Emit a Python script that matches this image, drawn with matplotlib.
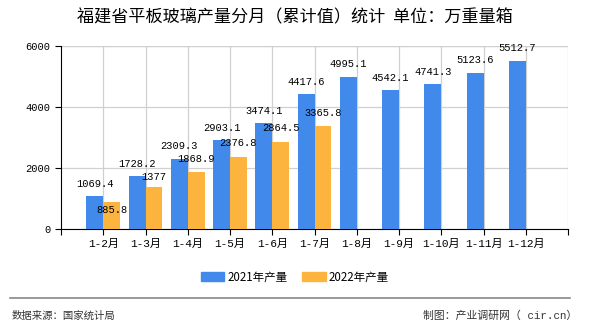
import matplotlib
matplotlib.use("Agg")
import matplotlib.pyplot as plt
from matplotlib.patches import Patch

plt.rcParams['font.family'] = ['Noto Sans CJK SC', 'DejaVu Sans']

categories = ["1-2月", "1-3月", "1-4月", "1-5月", "1-6月", "1-7月",
              "1-8月", "1-9月", "1-10月", "1-11月", "1-12月"]
values_2021 = [1069.4, 1728.2, 2309.3, 2903.1, 3474.1, 4417.6,
               4995.1, 4542.1, 4741.3, 5123.6, 5512.7]
values_2022 = [885.8, 1377, 1868.9, 2376.8, 2864.5, 3365.8]
label_2021 = [f"{v:g}" for v in values_2021]
label_2022 = [f"{v:g}" for v in values_2022]
yticks = [0, 2000, 4000, 6000]

c21 = "#418AEC"
c22 = "#FDB43F"
mono = ['Liberation Mono', 'Noto Sans CJK SC']

fig = plt.figure(figsize=(5.9, 3.3), dpi=100)
ax = fig.add_axes([61/590, 1-229/330, (568-61)/590, (229-46)/330])

x = list(range(len(categories)))
w = 0.4
ax.bar([i - w/2 for i in x], values_2021, width=w, color=c21, zorder=3)
ax.bar([i + w/2 for i in range(len(values_2022))], values_2022, width=w, color=c22, zorder=3)

for i, v in enumerate(values_2021):
    ax.annotate(label_2021[i], (i - w/2, v), xytext=(0, 9), textcoords="offset points",
                ha="center", va="center", fontsize=7.5, family=mono, zorder=5)
off22 = [-6, 7, 9, 9.5, 10, 9.5]
for i, v in enumerate(values_2022):
    ax.annotate(label_2022[i], (i + w/2, v), xytext=(0, off22[i]), textcoords="offset points",
                ha="center", va="center", fontsize=7.5, family=mono, zorder=5)

ax.set_xlim(-1, len(categories))
ax.set_ylim(0, 6000)
ax.set_yticks(yticks)
ax.set_yticklabels([str(t) for t in yticks], fontsize=7.5, family=mono)
ax.set_xticks(x)
ax.set_xticklabels(categories, fontsize=8, family=mono)
ax.set_xticks([-1, len(categories)], minor=True)
ax.grid(True, color="#D0D0D0", linewidth=0.9, zorder=0)
ax.set_axisbelow(True)
for s in ["top", "right"]:
    ax.spines[s].set_visible(False)
ax.spines["left"].set_color("black")
ax.spines["bottom"].set_color("black")
ax.tick_params(axis="both", which="both", length=4, color="black", width=0.8)
ax.tick_params(axis="x", pad=3)
ax.axhline(6000, color="#D0D0D0", linewidth=0.9, zorder=0)
ax.axvline(len(categories), color="#D0D0D0", linewidth=0.9, zorder=0)

fig.text(0.5, 1-17/330, "福建省平板玻璃产量分月（累计值）统计  单位：万重量箱",
         ha="center", va="center", fontsize=12.3)

handles = [Patch(color=c21, label="2021年产量"), Patch(color=c22, label="2022年产量")]
fig.legend(handles=handles, loc="center", bbox_to_anchor=(0.5, 1-277/330), ncol=2,
           frameon=False, fontsize=8.3, handlelength=2.0, handleheight=0.7,
           columnspacing=1.3, handletextpad=0.3)

fig.add_artist(plt.Line2D([10/590, 570/590], [1-298/330, 1-298/330],
                          color="#888888", linewidth=1.2, transform=fig.transFigure))
fig.text(12/590, 1-316/330, "数据来源：国家统计局", ha="left", va="center", fontsize=7.5, color="#333333")
fig.text(577/590, 1-316/330, "制图：产业调研网（ cir.cn）", ha="right", va="center", fontsize=7.8,
         color="#333333", family=mono)

fig.savefig("out.png", dpi=100)
